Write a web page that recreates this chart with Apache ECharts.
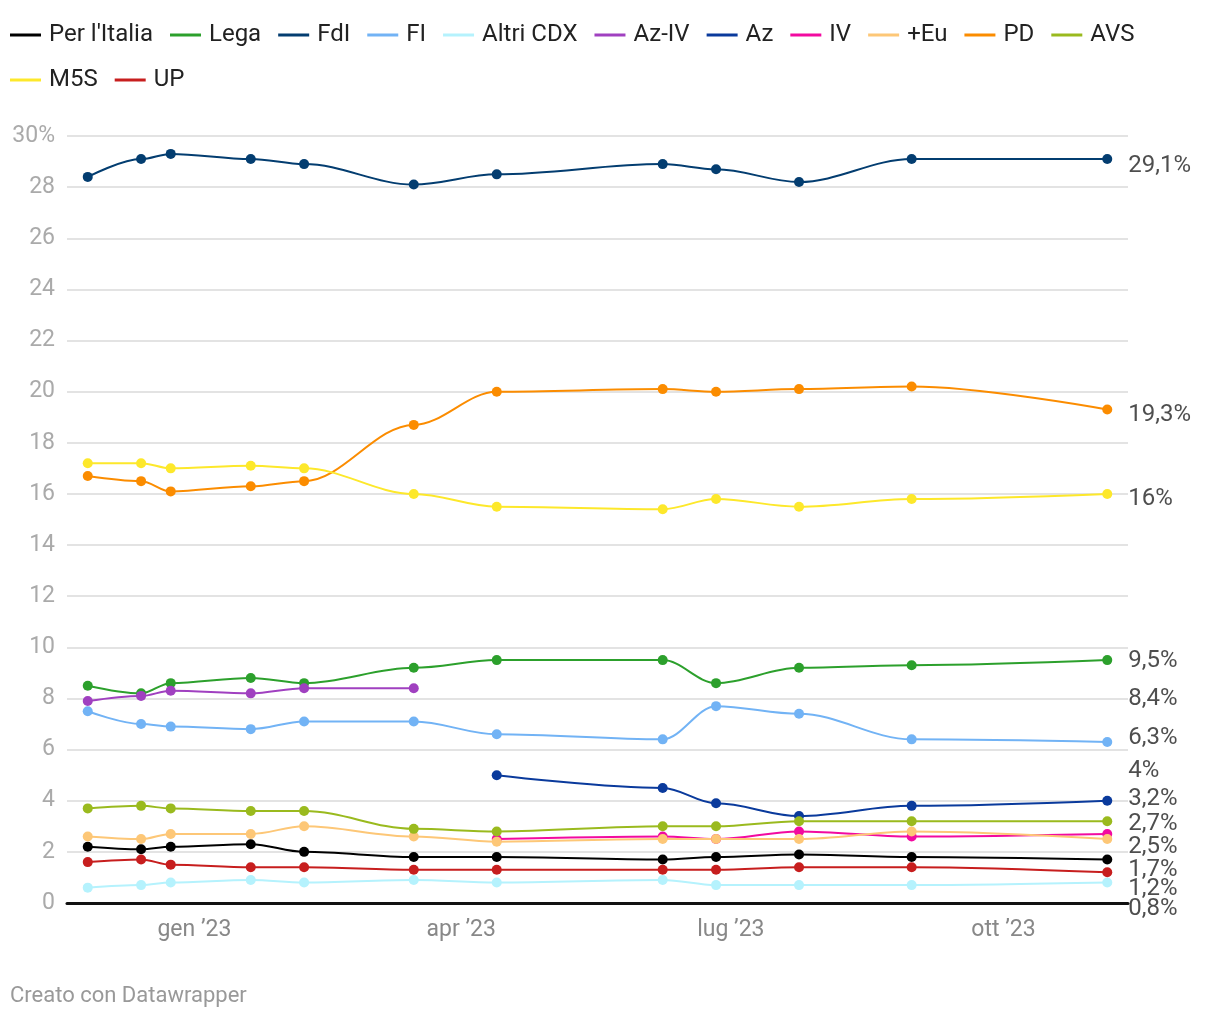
<!DOCTYPE html>
<html><head><meta charset="utf-8">
<script src="https://cdn.jsdelivr.net/npm/echarts@6/dist/echarts.min.js"></script>
<style>html,body{margin:0;padding:0;background:#fff}#c{width:1220px;height:1020px}</style>
</head><body><div id="c"></div>
<script>
const dates = ['2022-11-26','2022-12-14','2022-12-24','2023-01-20','2023-02-07','2023-03-16','2023-04-13','2023-06-08','2023-06-26','2023-07-24','2023-08-31','2023-11-05'];
const names = ["Per l'Italia","Lega","FdI","FI","Altri CDX","Az-IV","Az","IV","+Eu","PD","AVS","M5S","UP"];
const perItalia = [2.2,2.1,2.2,2.3,2.0,1.8,1.8,1.7,1.8,1.9,1.8,1.7];
const lega      = [8.5,8.2,8.6,8.8,8.6,9.2,9.5,9.5,8.6,9.2,9.3,9.5];
const fdi       = [28.4,29.1,29.3,29.1,28.9,28.1,28.5,28.9,28.7,28.2,29.1,29.1];
const fi        = [7.5,7.0,6.9,6.8,7.1,7.1,6.6,6.4,7.7,7.4,6.4,6.3];
const altriCdx  = [0.6,0.7,0.8,0.9,0.8,0.9,0.8,0.9,0.7,0.7,0.7,0.8];
const azIv      = [7.9,8.1,8.3,8.2,8.4,8.4,null,null,null,null,null,null];
const az        = [null,null,null,null,null,null,5.0,4.5,3.9,3.4,3.8,4.0];
const iv        = [null,null,null,null,null,null,2.5,2.6,2.5,2.8,2.6,2.7];
const piuEu     = [2.6,2.5,2.7,2.7,3.0,2.6,2.4,2.5,2.5,2.5,2.8,2.5];
const pd        = [16.7,16.5,16.1,16.3,16.5,18.7,20.0,20.1,20.0,20.1,20.2,19.3];
const avs       = [3.7,3.8,3.7,3.6,3.6,2.9,2.8,3.0,3.0,3.2,3.2,3.2];
const m5s       = [17.2,17.2,17.0,17.1,17.0,16.0,15.5,15.4,15.8,15.5,15.8,16.0];
const up        = [1.6,1.7,1.5,1.4,1.4,1.3,1.3,1.3,1.3,1.4,1.4,1.2];
const values = [perItalia,lega,fdi,fi,altriCdx,azIv,az,iv,piuEu,pd,avs,m5s,up];
const colors = ['#000000','#2ca02c','#033d70','#72b3f5','#b5f2fd','#a040c0','#0a3a9c','#f20aa0','#fdc777','#fb8c00','#9aba1e','#fde82b','#c71e1e'];
const endLabelTexts = ['1,7%','9,5%','29,1%','6,3%','0,8%','8,4%','4%','2,7%','2,5%','19,3%','3,2%','16%','1,2%'];
const endLabelValues = [1.7,9.5,29.1,6.3,0.8,8.4,4.0,2.7,2.5,19.3,3.2,16.0,1.2];
const endLabelShift = [10,1,7,-4,26,11,-30,-10,8,5,-22,5,17];
const xTicks = ['2023-01-01','2023-04-01','2023-07-01','2023-10-01'];
const xRange = ['2022-11-19','2023-11-12'];
const monthNames = ['gen','feb','mar','apr','mag','giu','lug','ago','set','ott','nov','dic'];
const yTicksMax = 30, yStep = 2;

const ts = d => Date.UTC(+d.slice(0,4), +d.slice(5,7)-1, +d.slice(8,10));
const FONT = 'Roboto, "Noto Sans", sans-serif';
const series = names.map((n,i)=>({
  name:n, type:'line', smooth:0.35, smoothMonotone:'x',
  data: dates.map((d,j)=>[ts(d), values[i][j]]),
  connectNulls:false,
  symbol:'circle', symbolSize:10, showSymbol:true,
  lineStyle:{width:2, color:colors[i]},
  itemStyle:{color:colors[i]},
  z: 2
}));
series.push({
  name:'labels', type:'scatter', symbolSize:0, silent:true, clip:false,
  data: names.map((n,i)=>({value:[ts(dates[dates.length-1]), endLabelValues[i]],
    label:{show:true, position:'right', distance:21, offset:[0,endLabelShift[i]],
      formatter:endLabelTexts[i], fontSize:24, color:'#222', fontFamily:FONT}})),
  z: 5
});
const chart = echarts.init(document.getElementById('c'), null, {renderer:'canvas'});
chart.setOption({
  animation:false,
  color: colors,
  textStyle:{fontFamily:FONT},
  legend:{
    data:names, left:5, top:16, width:1170, itemWidth:31, itemHeight:3, itemGap:17,
    icon:'rect',
    textStyle:{fontSize:24, color:'#222', fontFamily:FONT, lineHeight:28, padding:[0,0,0,3]}
  },
  grid:{left:67, right:92, top:136, bottom:117, containLabel:false},
  xAxis:{
    type:'value', min:ts(xRange[0]), max:ts(xRange[1]),
    axisLine:{show:true, onZero:false, lineStyle:{color:'#111', width:3}},
    axisTick:{show:false}, splitLine:{show:false},
    axisLabel:{
      customValues: xTicks.map(ts),
      formatter: v => { const d=new Date(v); return monthNames[d.getUTCMonth()]+' ’'+String(d.getUTCFullYear()).slice(2); },
      fontSize:23, color:'#888', margin:16, fontFamily:FONT
    }
  },
  yAxis:{
    type:'value', min:0, max:yTicksMax, interval:yStep,
    axisLine:{show:false}, axisTick:{show:false},
    splitLine:{lineStyle:{color:'#e3e3e3', width:2}},
    axisLabel:{fontSize:23, color:'#aaa', margin:12, fontFamily:FONT,
      formatter: v => v===yTicksMax ? v+'%' : String(v)}
  },
  series: series,
  graphic:[{type:'text', left:10, top:985, style:{text:'Creato con Datawrapper', fill:'#999', fontSize:22, fontFamily:FONT}}]
});
</script></body></html>
